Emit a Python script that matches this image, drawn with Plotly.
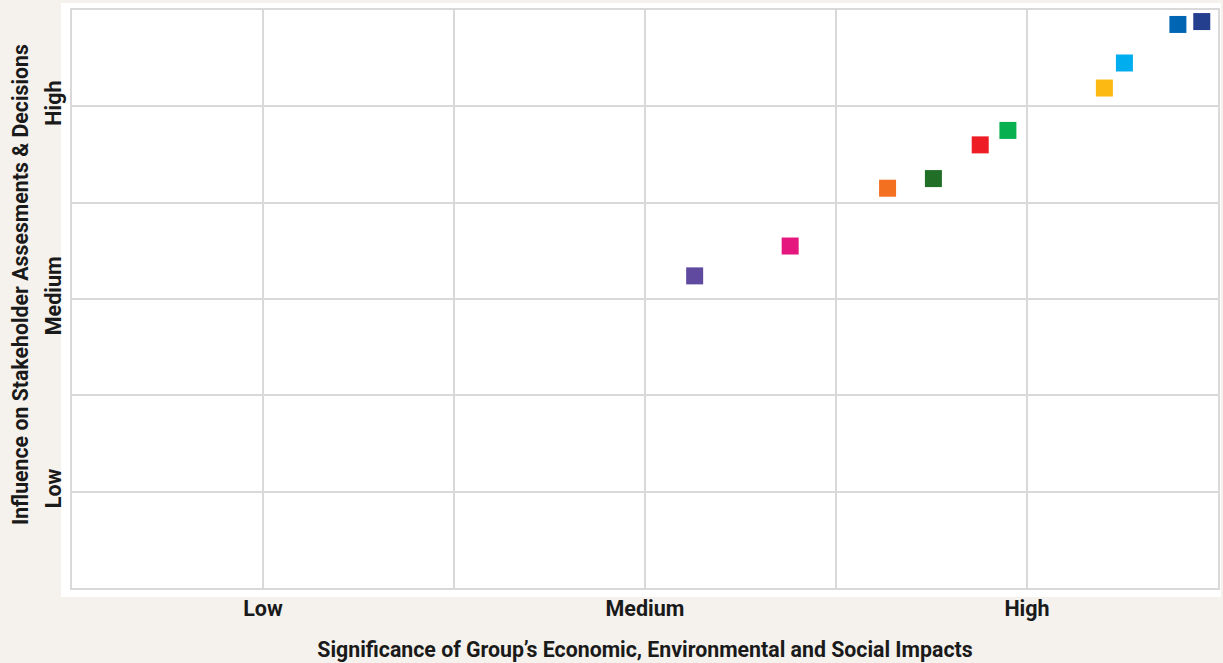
import plotly.graph_objects as go

# Data (scale: 0..6, Low=1, Medium=3, High=5)
groups = ["Group A", "Group B", "Group C", "Group D", "Group E",
          "Group F", "Group G", "Group H", "Group I", "Group J"]
significance = [3.26, 3.76, 4.27, 4.51, 4.755, 4.90, 5.405, 5.51, 5.79, 5.915]
influence = [3.24, 3.55, 4.15, 4.25, 4.60, 4.75, 5.19, 5.45, 5.85, 5.88]
colors = ["#5f4aa0", "#e5177f", "#f37021", "#216f27", "#ee1c25",
          "#08b04f", "#fdb913", "#00aeef", "#0066b3", "#253f8f"]

tick_vals = [1, 2, 3, 4, 5]
tick_text = ["Low", "", "Medium", "", "High"]
x_title = "Significance of Group\u2019s Economic, Environmental and Social Impacts"
y_title = "Influence on Stakeholder Assesments &amp; Decisions"

W, H = 1223, 663
ml, mr, mt, mb = 72, 3, 10, 75
pw, ph = W - ml - mr, H - mt - mb

fig = go.Figure()
fig.add_trace(go.Scatter(
    x=significance, y=influence, mode="markers", text=groups,
    marker=dict(symbol="square", size=17, color=colors, line=dict(width=0)),
    hovertemplate="%{text}<extra></extra>", showlegend=False,
))

grid = "#d9d9d9"
def f(sz):
    return dict(size=sz, family="Roboto", weight="bold", color="#1a1a1a")

fig.update_layout(
    width=W, height=H,
    margin=dict(l=ml, r=mr, t=mt, b=mb),
    paper_bgcolor="#f5f2ed",
    plot_bgcolor="#ffffff",
    font=f(21),
    shapes=[dict(type="rect", xref="paper", yref="paper", layer="below",
                 x0=(61 - ml) / pw, x1=(W - ml) / pw,
                 y0=-(597 - (H - mb)) / ph, y1=(H - mb - 3) / ph,
                 fillcolor="#ffffff", line=dict(width=0))],
    annotations=[dict(text=y_title, textangle=-90, showarrow=False,
                      xref="paper", yref="paper",
                      x=(20 - ml) / pw, y=(H - mb - 285) / ph,
                      xanchor="center", yanchor="middle", font=f(21.3))],
    xaxis=dict(range=[0, 6], tickvals=tick_vals, ticktext=tick_text,
               showgrid=True, gridcolor=grid, gridwidth=2,
               showline=True, mirror=True, linecolor=grid, linewidth=2,
               zeroline=False, ticks="", ticklen=0,
               tickfont=f(21.5),
               title=dict(text=x_title, font=f(21.3), standoff=22)),
    yaxis=dict(range=[0, 6], tickvals=tick_vals, ticktext=tick_text,
               showgrid=True, gridcolor=grid, gridwidth=2,
               showline=True, mirror=True, linecolor=grid, linewidth=2,
               zeroline=False, ticks="", ticklen=0, tickangle=-90,
               tickfont=f(21.5)),
)

fig.write_html("out.html")
